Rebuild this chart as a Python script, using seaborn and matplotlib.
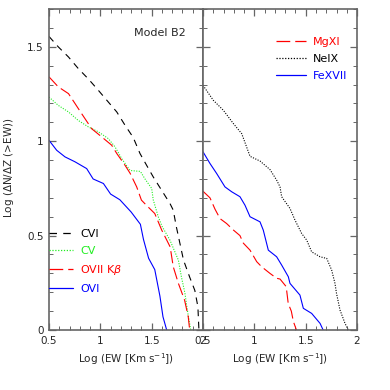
import numpy as np
import pandas as pd
import matplotlib
matplotlib.use('Agg')
import matplotlib.pyplot as plt
import matplotlib.ticker as ticker
from matplotlib.lines import Line2D
import seaborn as sns

sns.set_theme(style='ticks')
plt.rcParams['font.family'] = ['DejaVu Sans']
plt.rcParams['font.size'] = 7.5
plt.rcParams['mathtext.fontset'] = 'dejavusans'

# ---- left panel: C and O lines ----
cvi_x = [0.5, 0.59, 0.69, 0.785, 0.883, 0.98, 1.077, 1.16, 1.24, 1.32, 1.386, 1.45,
         1.515, 1.597, 1.678, 1.71, 1.74, 1.81, 1.87, 1.92, 1.95, 1.96]
cvi_y = [1.555, 1.5, 1.446, 1.385, 1.33, 1.27, 1.208, 1.155, 1.085, 1.02, 0.935, 0.873,
         0.811, 0.74, 0.67, 0.635, 0.547, 0.37, 0.28, 0.21, 0.123, 0.0]

cv_x = [0.5, 0.59, 0.69, 0.785, 0.883, 0.98, 1.077, 1.143, 1.208, 1.256, 1.29, 1.39,
        1.435, 1.5, 1.515, 1.564, 1.6, 1.678, 1.76, 1.79, 1.824, 1.847, 1.88]
cv_y = [1.234, 1.19, 1.155, 1.11, 1.076, 1.05, 1.014, 0.97, 0.908, 0.87, 0.845, 0.84,
        0.80, 0.75, 0.69, 0.6, 0.55, 0.476, 0.37, 0.28, 0.194, 0.106, 0.0]

ovii_x = [0.5, 0.59, 0.69, 0.753, 0.818, 0.916, 1.013, 1.11, 1.16, 1.24, 1.29, 1.354,
          1.4, 1.45, 1.53, 1.597, 1.68, 1.71, 1.76, 1.82, 1.856, 1.87]
ovii_y = [1.341, 1.288, 1.252, 1.2, 1.146, 1.066, 1.023, 0.979, 0.935, 0.873, 0.83, 0.758,
          0.688, 0.66, 0.617, 0.53, 0.44, 0.335, 0.247, 0.159, 0.07, 0.0]

ovi_x = [0.5, 0.575, 0.656, 0.753, 0.867, 0.93, 1.03, 1.1, 1.19, 1.3, 1.39, 1.42,
         1.47, 1.53, 1.58, 1.61, 1.646]
ovi_y = [1.005, 0.952, 0.917, 0.891, 0.855, 0.80, 0.776, 0.72, 0.69, 0.625, 0.56, 0.48,
         0.38, 0.32, 0.18, 0.07, 0.0]

# ---- right panel: Mg, Ne, Fe lines ----
mgxi_x = [0.5, 0.568, 0.617, 0.666, 0.73, 0.795, 0.86, 0.893, 0.958, 1.023, 1.071, 1.152,
          1.217, 1.25, 1.31, 1.33, 1.36, 1.38, 1.41]
mgxi_y = [0.735, 0.70, 0.64, 0.59, 0.564, 0.53, 0.5, 0.46, 0.423, 0.362, 0.335, 0.30,
          0.274, 0.27, 0.23, 0.14, 0.1, 0.045, 0.0]

neix_x = [0.5, 0.6, 0.698, 0.795, 0.877, 0.958, 1.055, 1.152, 1.217, 1.25, 1.266, 1.347,
          1.396, 1.461, 1.51, 1.558, 1.64, 1.705, 1.753, 1.785, 1.80, 1.834, 1.883, 1.915]
neix_y = [1.296, 1.217, 1.164, 1.094, 1.04, 0.92, 0.895, 0.85, 0.794, 0.758, 0.706, 0.644,
          0.582, 0.511, 0.476, 0.414, 0.388, 0.379, 0.317, 0.247, 0.194, 0.106, 0.035, 0.0]

fexvii_x = [0.5, 0.568, 0.633, 0.714, 0.78, 0.86, 0.909, 0.958, 1.055, 1.087, 1.136, 1.217,
            1.266, 1.331, 1.347, 1.444, 1.477, 1.558, 1.64, 1.67]
fexvii_y = [0.944, 0.882, 0.829, 0.758, 0.732, 0.706, 0.661, 0.6, 0.573, 0.529, 0.423, 0.388,
            0.344, 0.282, 0.247, 0.185, 0.115, 0.088, 0.035, 0.0]

left_series = [
    ('CVI', cvi_x, cvi_y, '#000000', (0, (6, 5))),
    ('CV', cv_x, cv_y, '#22ee22', (0, (1, 1.3))),
    (r'OVII K$\beta$', ovii_x, ovii_y, '#ff0000', (0, (11, 4))),
    ('OVI', ovi_x, ovi_y, '#0000ff', '-'),
]
right_series = [
    ('MgXI', mgxi_x, mgxi_y, '#ff0000', (0, (11, 4))),
    ('NeIX', neix_x, neix_y, '#000000', (0, (1, 1.3))),
    ('FeXVII', fexvii_x, fexvii_y, '#0000ff', '-'),
]

fig = plt.figure(figsize=(3.9, 3.9), dpi=100)
ax1 = fig.add_axes([0.1256, 0.1538, 0.395, 0.823])
ax2 = fig.add_axes([0.5205, 0.1538, 0.395, 0.823], sharey=ax1)

for ax, series in [(ax1, left_series), (ax2, right_series)]:
    for name, xs, ys, col, ls in series:
        df = pd.DataFrame({'x': xs, 'y': ys})
        sns.lineplot(data=df, x='x', y='y', ax=ax, color=col, linestyle=ls,
                     linewidth=0.8, sort=False, estimator=None)
    ax.set_xlim(0.5, 2.0)
    ax.set_ylim(0, 1.7)
    ax.xaxis.set_major_locator(ticker.MultipleLocator(0.5))
    ax.xaxis.set_minor_locator(ticker.MultipleLocator(0.1))
    ax.yaxis.set_major_locator(ticker.MultipleLocator(0.5))
    ax.yaxis.set_minor_locator(ticker.MultipleLocator(0.1))
    ax.xaxis.set_major_formatter(ticker.FormatStrFormatter('%g'))
    ax.yaxis.set_major_formatter(ticker.FormatStrFormatter('%g'))
    ax.tick_params(which='both', direction='in', top=True, right=True,
                   color='#666666', labelsize=7.5, pad=4)
    ax.tick_params(which='major', length=5, width=0.9)
    ax.tick_params(which='minor', length=3, width=0.7)
    for sp in ax.spines.values():
        sp.set_color('#666666')
        sp.set_linewidth(1.2)
    ax.set_xlabel('')
    ax.set_ylabel('')

ax2.tick_params(labelleft=False)


def make_legend(ax, series, **kw):
    hl = [Line2D([0], [0], color=col, linestyle=ls, linewidth=0.9)
          for _, _, _, col, ls in series]
    names = [s[0] for s in series]
    leg = ax.legend(hl, names, frameon=False, borderaxespad=0, borderpad=0,
                    handletextpad=0.6, labelspacing=0.63, fontsize=8, **kw)
    for txt, (_, _, _, col, _) in zip(leg.get_texts(), series):
        txt.set_color(col)
    return leg


make_legend(ax1, left_series, loc='lower left', bbox_to_anchor=(0.0, 0.112),
            handlelength=2.2)
make_legend(ax2, right_series, loc='upper right', bbox_to_anchor=(0.935, 0.913),
            handlelength=2.7)

ax1.text(0.72, 0.925, 'Model B2', transform=ax1.transAxes, ha='center',
         va='center', fontsize=8)

fig.text(0.024, 0.57, r'Log ($\Delta$N/$\Delta$Z (>EW))', rotation=90,
         ha='center', va='center', fontsize=7.5)
for ax in (ax1, ax2):
    pos = ax.get_position()
    fig.text((pos.x0 + pos.x1) / 2, 0.08, r'Log (EW [Km s$^{-1}$])',
             ha='center', va='center', fontsize=7.5)

fig.savefig('out.png', dpi=100)
